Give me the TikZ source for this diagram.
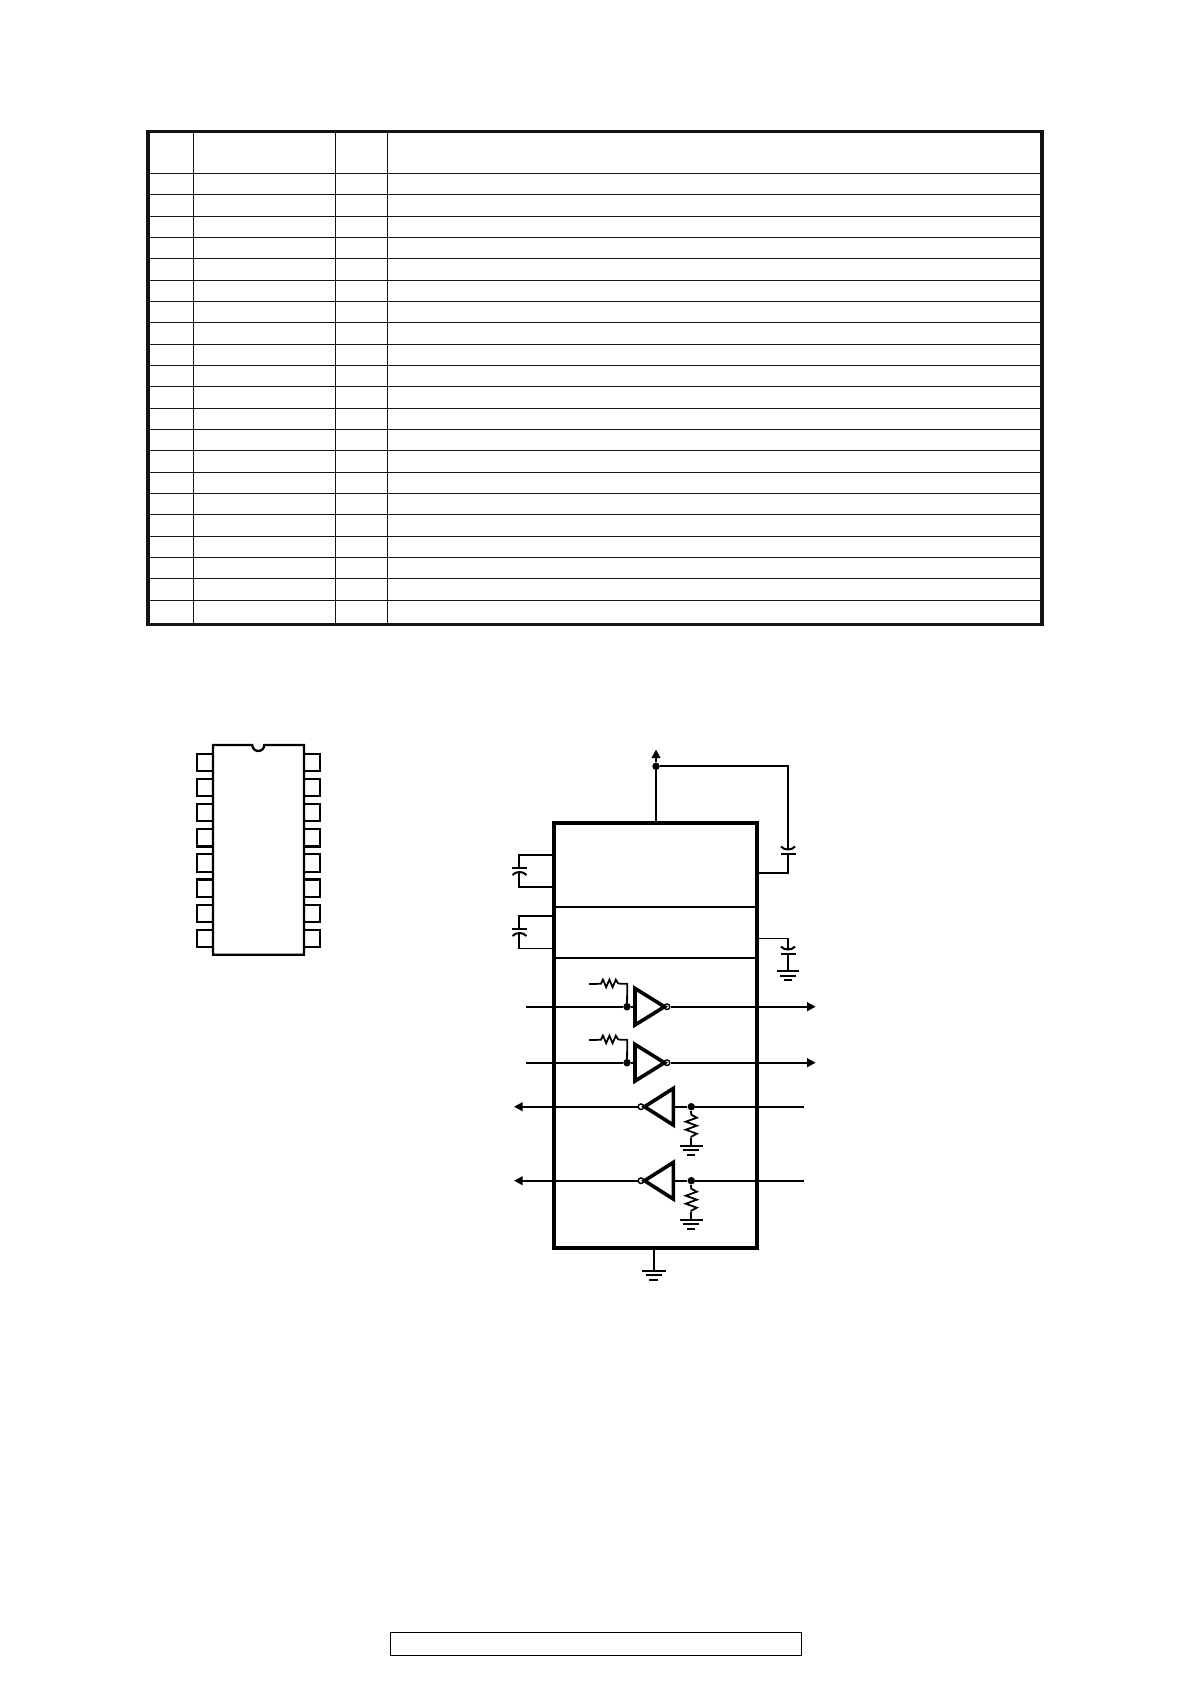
\documentclass[tikz,border=0pt]{standalone}
\usetikzlibrary{arrows.meta}
\tikzset{
  x=1pt,y=-1pt,
  ink/.style={draw=black!92},
  thickframe/.style={ink,line width=3.4pt},
  gridline/.style={ink,line width=1.5pt},
  wire/.style={draw=black,line width=2pt},
  thinwire/.style={draw=black,line width=1.2pt},
  sig/.style={draw=black,line width=2pt},
  sigarrow/.style={sig,-{Triangle[length=8.5pt,width=8.5pt]}},
  block/.style={draw=black,line width=3.8pt},
  divider/.style={draw=black,line width=2pt},
  pinbox/.style={draw=black,line width=2.2pt,fill=white},
  icbody/.style={draw=black,line width=2.3pt,fill=white},
  gate/.style={draw=black,line width=3.6pt,line join=miter,fill=white},
  dot/.style={circle,fill=black,inner sep=0pt,minimum size=7.5pt},
  bubble/.style={circle,draw=black,line width=1.4pt,fill=white,inner sep=0pt,minimum size=5.6pt},
  res/.style={draw=black,line width=1.8pt,line join=miter},
  plate/.style={draw=black,line width=2pt},
  pics/gndsym/.style={code={
    \draw[plate] (-#1,0) -- (#1,0);
    \draw[plate] (-#1*0.68,4.5) -- (#1*0.68,4.5);
    \draw[plate] (-#1*0.36,9) -- (#1*0.36,9);
  }},
  pics/resh/.style={code={
    \draw[res] (0,0) -- (4,0) -- ++(2,-4) -- ++(3.2,7.5) -- ++(3.2,-7.5) -- ++(3.2,7.5) -- ++(3.2,-7.5) -- ++(2.2,3.5) -- (22.6,0);
  }},
  pics/resv/.style={code={
    \draw[res] (0,0) -- (0,2) -- ++(5.5,3) -- ++(-11,4) -- ++(11,4) -- ++(-11,4) -- ++(11,4) -- ++(-5.5,3) -- (0,25);
  }},
}
\begin{document}
\begin{tikzpicture}
\useasboundingbox (0,0) rectangle (1190,1684);
\fill[white] (0,0) rectangle (1190,1684);
% table
\foreach \i in {0,...,20} \draw[gridline] (148,{floor(173.3+21.35*\i)+0.5}) -- (1042,{floor(173.3+21.35*\i)+0.5});
\foreach \cx in {193.5,335.5,387.5} \draw[gridline] (\cx,131.5) -- (\cx,624.5);
\node[thickframe,rectangle,inner sep=0pt,minimum width=894pt,minimum height=493pt] (tableframe) at (595,378) {};
% footer
\node[draw=black,line width=1.3pt,rectangle,inner sep=0pt,minimum width=411.4pt,minimum height=23pt] (footer) at (596,1643.8) {};
% IC package
\foreach \k in {0,...,7} {
  \draw[pinbox] (197,{753.7+25.15*\k}) rectangle (213,{771+25.15*\k});
  \draw[pinbox] (304,{753.7+25.15*\k}) rectangle (320,{771+25.15*\k});
}
\draw[icbody] (213,745) -- (252.3,745) arc[start angle=180,end angle=0,radius=6] -- (304,745) -- (304,954.7) -- (213,954.7) -- cycle;
% block
\node[block,rectangle,inner sep=0pt,minimum width=202.7pt,minimum height=425pt] (blk) at (655.7,1035.5) {};
\coordinate (divAl) at (554.3,906.7); \coordinate (divAr) at (757,906.7);
\coordinate (divBl) at (554.3,957.7); \coordinate (divBr) at (757,957.7);
\draw[divider] (divAl) -- (divAr);
\draw[divider] (divBl) -- (divBr);
% supply
\node[dot] (vccdot) at (656,766.3) {};
\coordinate (vcctip) at (656,749.5);
\coordinate (vccin) at (656,823);
\coordinate (capRt) at (788,766.3);
\coordinate (capRb) at (788,872.7);
\coordinate (capRp) at (757,872.7);
\draw[wire] (vccin) -- (vccdot);
\draw[sigarrow] (vccdot) -- (vcctip);
\draw[wire] (vccdot) -- (capRt) -- (788,850);
\draw[plate] (781,853.7) -- (796,853.7);
\draw[plate] (781,846.5) .. controls (784,850.5) and (792,850.5) .. (795,846.5);
\draw[wire] (788,853.7) -- (capRb) -- (capRp);
% second right cap
\coordinate (capSp) at (757,938.3);
\coordinate (capSt) at (788,938.3);
\coordinate (capSg) at (788,971.3);
\draw[thinwire] (capSp) -- (capSt) -- (788,950);
\draw[plate] (781,946.5) .. controls (784,950.5) and (792,950.5) .. (795,946.5);
\draw[plate] (781,953.7) -- (796,953.7);
\draw[wire] (788,953.7) -- (capSg);
\pic at (capSg) {gndsym=11.2};
% left caps
\coordinate (c1a) at (552,854.7); \coordinate (c1b) at (519,854.7);
\coordinate (c1c) at (519,886.7); \coordinate (c1d) at (552,886.7);
\draw[wire] (c1a) -- (c1b) -- (519,867.7);
\draw[plate] (512,867.7) -- (527,867.7);
\draw[plate] (512.5,875) .. controls (515.5,871) and (523.5,871) .. (526.5,875);
\draw[wire] (519,871.7) -- (c1c) -- (c1d);
\coordinate (c2a) at (552,915.7); \coordinate (c2b) at (519,915.7);
\coordinate (c2c) at (519,948.3); \coordinate (c2d) at (552,948.3);
\draw[wire] (c2a) -- (c2b) -- (519,928.7);
\draw[plate] (512,928.7) -- (527,928.7);
\draw[plate] (512.5,936) .. controls (515.5,932) and (523.5,932) .. (526.5,936);
\draw[thinwire] (519,932.7) -- (c2c) -- (c2d);
% inverters driving right
\foreach \nm/\ly/\ry in {p/1006.7/983.7,q/1062.7/1039.7} {
  \coordinate (\nm in) at (526,\ly);
  \coordinate (\nm out) at (815.7,\ly);
  \node[dot] (\nm dot) at (627,\ly) {};
  \node[bubble] (\nm bub) at (667,\ly) {};
  \draw[sig] (\nm in) -- (\nm dot) -- (635,\ly);
  \draw[gate] (635,{\ly-18.3}) -- (664.5,\ly) -- (635,{\ly+18.3}) -- cycle;
  \draw[sigarrow] (\nm bub) -- (\nm out);
  \coordinate (\nm res) at (589.3,\ry);
  \coordinate (\nm cor) at (627.3,\ry);
  \draw[res] (\nm res) -- (597,\ry);
  \pic at (597,\ry) {resh};
  \draw[res] (619.6,\ry) -- (\nm cor) -- (\nm dot);
}
% inverters driving left
\foreach \nm/\ly in {r/1106.7,s/1180.7} {
  \coordinate (\nm in) at (804,\ly);
  \coordinate (\nm out) at (514,\ly);
  \node[dot] (\nm dot) at (691.3,\ly) {};
  \node[bubble] (\nm bub) at (641,\ly) {};
  \draw[sig] (\nm in) -- (\nm dot) -- (673.3,\ly);
  \draw[gate] (673.3,{\ly-18.3}) -- (644.5,\ly) -- (673.3,{\ly+18.3}) -- cycle;
  \draw[sigarrow] (\nm bub) -- (\nm out);
  \pic at (691.3,{\ly+6}) {resv};
  \coordinate (\nm gnd) at (691.3,{\ly+39});
  \draw[res] (\nm dot) -- (691.3,{\ly+6});
  \draw[res] (691.3,{\ly+31}) -- (\nm gnd);
  \pic at (\nm gnd) {gndsym=11.5};
}
% bottom ground
\coordinate (gndtop) at (653.7,1248);
\coordinate (gndbot) at (653.7,1270.7);
\draw[wire] (gndtop) -- (gndbot);
\pic at (gndbot) {gndsym=12};
\end{tikzpicture}
\end{document}
